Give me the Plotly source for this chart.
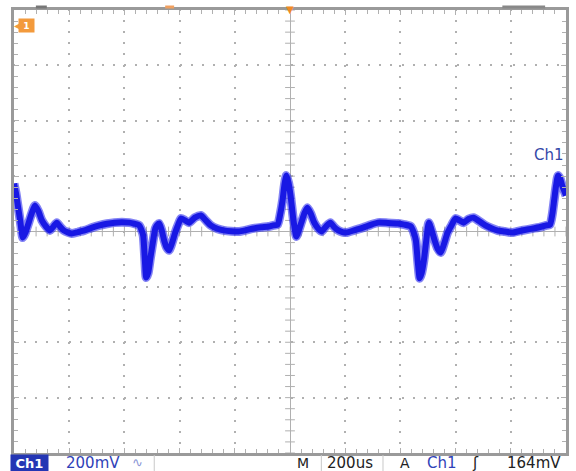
import plotly.graph_objects as go
import numpy as np

# ---- data (time in microseconds, voltage in mV) ----
time_us = [-1000, -993, -986, -977, -968, -959, -950, -937, -924, -911, -899, -884,
           -870, -857, -845, -832, -820, -805, -791, -768, -744, -717, -690, -663,
           -636, -609, -582, -564, -546, -539, -532, -526, -521, -514, -506, -497,
           -488, -481, -474, -465, -456, -447, -438, -427, -416, -405, -395, -380,
           -366, -345, -323, -305, -287, -263, -240, -213, -186, -159, -132, -104,
           -77, -61, -45, -36, -27, -20, -13, -5, 2, 12, 23, 32, 41, 52, 63, 75,
           88, 101, 114, 130, 146, 160, 175, 190, 204, 235, 265, 292, 319, 355,
           391, 414, 438, 447, 456, 463, 470, 477, 485, 494, 503, 513, 524, 535,
           546, 558, 571, 585, 600, 614, 629, 647, 665, 686, 708, 730, 751, 778,
           805, 832, 859, 886, 914, 928, 942, 950, 957, 964, 971, 979, 986, 993, 1000]
volt_mv = [173, 140, 94, 35, -22, -5, 22, 62, 94, 72, 40, 18,
           4, 18, 32, 16, 4, -3, -7, -2, 4, 14, 22, 28,
           32, 33, 32, 28, 22, 8, -14, -100, -166, -150, -97, -40,
           11, 24, 29, 5, -32, -58, -68, -40, -4, 25, 47, 40,
           32, 50, 58, 40, 22, 10, 4, 1, 0, 5, 11, 15,
           18, 22, 25, 60, 112, 170, 202, 175, 130, 45, -18, 5, 32, 65, 86, 65,
           32, 12, 0, 18, 32, 16, 4, -2, -4, 5, 14, 24, 32, 31,
           29, 25, 18, 0, -32, -110, -169, -150, -105, -30, 32, 5, -32, -62,
           -76, -45, -4, 22, 47, 40, 32, 45, 50, 37, 22, 12, 4, 0,
           -4, 2, 7, 12, 18, 22, 25, 60, 112, 165, 202, 190, 166, 148, 130]

x_range = [-1000, 1000]   # 10 divisions x 200 us
y_range = [-800, 800]     # 8 divisions x 200 mV
x_div = 200
y_div = 200

ch_label = "Ch1"
volts_label = "200mV"
time_label = "200us"
trig_level = "164mV"

W, H = 576, 471
L, R, T, B = 14, 7, 9, 18
pw, ph = W - L - R, H - T - B

def xp(px):
    return (px - L) / pw

def yp(py):
    return (H - B - py) / ph

grid_col = "#b0b0b0"
frame_col = "#9a9a9a"
blue_txt = "#2f42b8"

fig = go.Figure()

# center-cross tick marks (graticule)
minor_x = np.arange(x_range[0], x_range[1] + 1, x_div / 5)
minor_y = np.arange(y_range[0], y_range[1] + 1, y_div / 5)
fig.add_trace(go.Scatter(x=minor_x, y=np.zeros_like(minor_x), mode="markers",
                         marker=dict(symbol="line-ns", size=7,
                                     line=dict(color=grid_col, width=1)),
                         hoverinfo="skip", showlegend=False))
fig.add_trace(go.Scatter(x=np.zeros_like(minor_y), y=minor_y, mode="markers",
                         marker=dict(symbol="line-ew", size=7,
                                     line=dict(color=grid_col, width=1)),
                         hoverinfo="skip", showlegend=False))

# waveform: soft noise band + solid core
fig.add_trace(go.Scatter(x=time_us, y=volt_mv, mode="lines",
                         line=dict(color="rgba(30,30,235,0.55)", width=9,
                                   shape="spline", smoothing=0.6),
                         hoverinfo="skip", showlegend=False))
fig.add_trace(go.Scatter(x=time_us, y=volt_mv, mode="lines",
                         line=dict(color="rgb(24,24,228)", width=6,
                                   shape="spline", smoothing=0.6),
                         hoverinfo="skip", showlegend=False))

axis_common = dict(showticklabels=False, showgrid=True, gridcolor=grid_col,
                   gridwidth=1.5, griddash="1px,9.1px,1px,0px",
                   zeroline=True, zerolinecolor=grid_col, zerolinewidth=1,
                   showline=True, linecolor=frame_col, linewidth=3,
                   mirror="allticks", ticks="inside", ticklen=5,
                   tickcolor=grid_col, tickwidth=1, fixedrange=True)

fig.update_xaxes(range=x_range, dtick=x_div, tick0=0,
                 minor=dict(dtick=x_div / 5, ticks="inside", ticklen=4,
                            tickcolor=grid_col, showgrid=False),
                 **axis_common)
fig.update_yaxes(range=y_range, dtick=y_div, tick0=0,
                 minor=dict(dtick=y_div / 5, ticks="inside", ticklen=4,
                            tickcolor=grid_col, showgrid=False),
                 **axis_common)

font_main = "DejaVu Sans"
ann = []
yb = yp(463)
# bottom readout bar
ann.append(dict(x=xp(29.5), y=yb, xref="paper", yref="paper", text="<b>" + ch_label + "</b>",
                showarrow=False, font=dict(family=font_main, size=13, color="white"),
                bgcolor="#2436b4", width=35, height=14, xanchor="center", yanchor="middle"))
ann.append(dict(x=xp(93), y=yb, xref="paper", yref="paper", text=volts_label,
                showarrow=False, font=dict(family=font_main, size=15, color=blue_txt),
                xanchor="center", yanchor="middle"))
ann.append(dict(x=xp(138), y=yb, xref="paper", yref="paper", text="∿",
                showarrow=False, font=dict(family=font_main, size=13, color="#8a96d6"),
                xanchor="center", yanchor="middle"))
ann.append(dict(x=xp(305), y=yb, xref="paper", yref="paper", text="M",
                showarrow=False, font=dict(family=font_main, size=14, color="#222222"),
                xanchor="center", yanchor="middle"))
ann.append(dict(x=xp(352), y=yb, xref="paper", yref="paper", text=time_label,
                showarrow=False, font=dict(family=font_main, size=15, color="#222222"),
                xanchor="center", yanchor="middle"))
ann.append(dict(x=xp(407), y=yb, xref="paper", yref="paper", text="A",
                showarrow=False, font=dict(family=font_main, size=14, color="#222222"),
                xanchor="center", yanchor="middle"))
ann.append(dict(x=xp(444), y=yb, xref="paper", yref="paper", text=ch_label,
                showarrow=False, font=dict(family=font_main, size=15, color=blue_txt),
                xanchor="center", yanchor="middle"))
ann.append(dict(x=xp(478), y=yb, xref="paper", yref="paper", text="ʃ",
                showarrow=False, font=dict(family=font_main, size=15, color="#222222"),
                xanchor="center", yanchor="middle"))
ann.append(dict(x=xp(537), y=yb, xref="paper", yref="paper", text=trig_level,
                showarrow=False, font=dict(family=font_main, size=15, color="#222222"),
                xanchor="center", yanchor="middle"))
# channel label near the trace
ann.append(dict(x=xp(552), y=yp(154), xref="paper", yref="paper", text=ch_label,
                showarrow=False, font=dict(family=font_main, size=15, color="#3448a8"),
                xanchor="center", yanchor="middle"))
# orange channel marker top-left
ann.append(dict(x=xp(27), y=yp(25), xref="paper", yref="paper", text="<b>1</b>",
                showarrow=False, font=dict(family=font_main, size=9, color="white"),
                bgcolor="#f39a3c", width=13, height=11, xanchor="center", yanchor="middle"))
ann.append(dict(x=xp(18), y=yp(25), xref="paper", yref="paper", text="◀",
                showarrow=False, font=dict(family=font_main, size=10, color="#f39a3c"),
                xanchor="center", yanchor="middle"))
# trigger position marker
ann.append(dict(x=0, y=yp(8), xref="x", yref="paper", text="▼",
                showarrow=False, font=dict(family=font_main, size=10, color="#f08a24"),
                xanchor="center", yanchor="middle"))

shapes = [
    # separators in the readout bar
    dict(type="line", xref="paper", yref="paper", x0=xp(155), x1=xp(155),
         y0=yp(455), y1=yp(471), line=dict(color="#c8c8c8", width=1)),
    dict(type="line", xref="paper", yref="paper", x0=xp(323), x1=xp(323),
         y0=yp(455), y1=yp(471), line=dict(color="#c8c8c8", width=1)),
    dict(type="line", xref="paper", yref="paper", x0=xp(385), x1=xp(385),
         y0=yp(455), y1=yp(471), line=dict(color="#c8c8c8", width=1)),
    # record-view indicator segments on top edge
    dict(type="line", xref="paper", yref="paper", x0=xp(36), x1=xp(47),
         y0=yp(6), y1=yp(6), line=dict(color="#777777", width=3)),
    dict(type="line", xref="paper", yref="paper", x0=xp(505), x1=xp(548),
         y0=yp(6), y1=yp(6), line=dict(color="#888888", width=3)),
    dict(type="line", xref="paper", yref="paper", x0=xp(166), x1=xp(175),
         y0=yp(6), y1=yp(6), line=dict(color="#f0a060", width=3)),
]

fig.update_layout(width=W, height=H, margin=dict(l=L, r=R, t=T, b=B),
                  paper_bgcolor="white", plot_bgcolor="white",
                  annotations=ann, shapes=shapes, showlegend=False)

fig.write_html("out.html", config={"displayModeBar": False},
               post_script="document.body.style.margin='0';"
                           "document.body.style.overflow='hidden';")
